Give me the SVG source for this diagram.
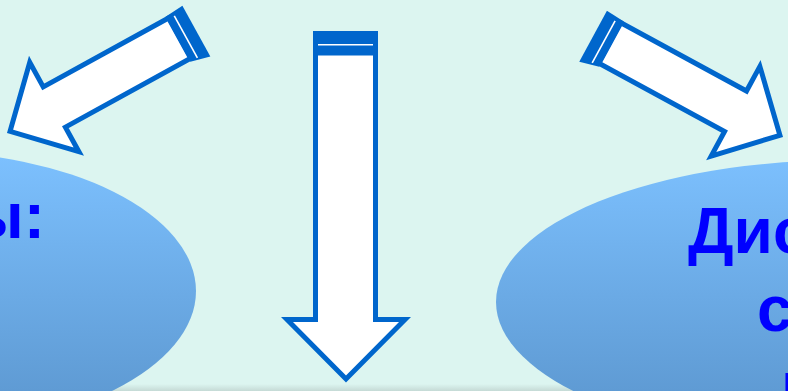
<svg xmlns="http://www.w3.org/2000/svg" width="788" height="391" viewBox="0 0 788 391">
  <defs>
    <linearGradient id="ellFill" x1="0" y1="150" x2="0" y2="391" gradientUnits="userSpaceOnUse">
      <stop offset="0" stop-color="#7DC1FF"/>
      <stop offset="1" stop-color="#5F9BD4"/>
    </linearGradient>
    <linearGradient id="shadowGrad" x1="0" y1="384" x2="0" y2="391" gradientUnits="userSpaceOnUse">
      <stop offset="0" stop-color="#9aa8a4" stop-opacity="0"/>
      <stop offset="1" stop-color="#9aa8a4" stop-opacity="0.35"/>
    </linearGradient>
    <g id="sideArrow">
      <polygon class="arrowBody" points="-197,-23 -54,-23 -54,-51 -3.5,0 -54,51 -54,23 -197,23"/>
      <polygon class="band" points="-215,-27 -195,-25.5 -195,26 -215,31"/>
      <line class="bandLine" x1="-203" y1="-22" x2="-203" y2="26"/>
    </g>
  </defs>
  <style>
    .arrowBody { fill: #FFFFFF; stroke: #0066CC; stroke-width: 5; stroke-linejoin: miter; }
    .band { fill: #0066CC; }
    .bandLine { stroke: #FFFFFF; stroke-width: 1.6; }
    .ell { fill: url(#ellFill); }
    .lbl { font-family: "Liberation Sans", Arial, sans-serif; font-weight: bold; font-size: 64px; fill: #0000FF; }
  </style>

  <rect x="0" y="0" width="788" height="391" fill="#DCF5F0"/>
  <rect x="60" y="384" width="540" height="7" fill="url(#shadowGrad)"/>

  <g id="node-left">
    <ellipse class="ell" cx="-84" cy="291" rx="280" ry="140"/>
    <text class="lbl" x="45" y="238" text-anchor="end">ы:</text>
  </g>

  <g id="node-right">
    <ellipse class="ell" cx="846" cy="302" rx="350" ry="142"/>
    <text class="lbl" x="688" y="253">Дис</text>
    <text class="lbl" x="757" y="331">с</text>
    <text class="lbl" x="781" y="407">п</text>
  </g>

  <g id="connectors">
    <g id="arrow-left">
      <use href="#sideArrow" transform="translate(7,133) scale(-1,1) rotate(28.8)"/>
    </g>
    <g id="arrow-center">
      <polygon class="arrowBody" points="315.5,53 375.5,53 375.5,319.5 405,319.5 346,379 287,319.5 315.5,319.5"/>
      <rect class="band" x="313" y="31" width="65" height="24"/>
      <line class="bandLine" x1="318" y1="44.8" x2="373" y2="44.8"/>
    </g>
    <g id="arrow-right">
      <use href="#sideArrow" transform="translate(783,137) rotate(28.5)"/>
    </g>
  </g>
</svg>
